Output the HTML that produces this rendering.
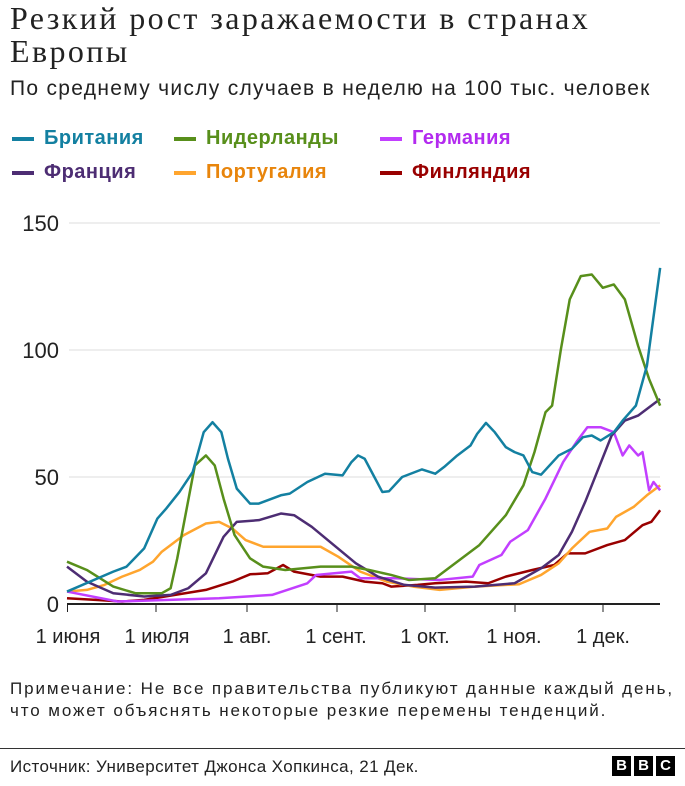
<!DOCTYPE html>
<html><head><meta charset="utf-8"><style>
body{margin:0;width:685px;height:786px;background:#fff;font-family:"Liberation Sans",sans-serif;color:#222;position:relative;overflow:hidden}
.a{position:absolute;white-space:nowrap}
.t{font-family:"Liberation Serif",serif;font-size:32px;line-height:33px;left:10px;top:2px;letter-spacing:2.4px}
.s{font-size:21px;left:10px;top:77px;letter-spacing:1.3px}
.lg{font-size:20px;font-weight:bold;letter-spacing:0.5px}
.sw{position:absolute;width:22px;height:4px}
.n{font-size:17px;line-height:22px;left:10px;top:678px;letter-spacing:1.9px}
</style></head><body>
<div class="a t">Резкий рост заражаемости в странах<br>Европы</div>
<div class="a s">По среднему числу случаев в неделю на 100 тыс. человек</div>
<div class="sw" style="left:12px;top:137px;background:#1380A1"></div><div class="a lg" style="left:44px;top:127px;color:#1380A1">Британия</div>
<div class="sw" style="left:174px;top:137px;background:#588F1B"></div><div class="a lg" style="left:206px;top:127px;color:#588F1B">Нидерланды</div>
<div class="sw" style="left:380px;top:137px;background:#C23FFF"></div><div class="a lg" style="left:412px;top:127px;color:#B32BEF">Германия</div>
<div class="sw" style="left:12px;top:171px;background:#4D2D73"></div><div class="a lg" style="left:44px;top:161px;color:#4D2D73">Франция</div>
<div class="sw" style="left:174px;top:171px;background:#FFA52E"></div><div class="a lg" style="left:206px;top:161px;color:#E8850C">Португалия</div>
<div class="sw" style="left:380px;top:171px;background:#990000"></div><div class="a lg" style="left:412px;top:161px;color:#990000">Финляндия</div>
<svg class="a" style="left:0;top:0" width="685" height="670">
<g stroke="#ddd" stroke-width="1"><line x1="69" x2="660" y1="223" y2="223"/><line x1="69" x2="660" y1="350" y2="350"/><line x1="69" x2="660" y1="477" y2="477"/></g>
<g font-size="22" fill="#222" text-anchor="end"><text x="59" y="231">150</text><text x="59" y="358">100</text><text x="59" y="485">50</text><text x="59" y="612">0</text></g>
<g fill="none" stroke-width="2.5" stroke-linejoin="round" transform="matrix(0.441 0 0 0.332 -1.36 199.8)">
<polyline vector-effect="non-scaling-stroke" stroke="#990000" points="155,1200 220,1205 280,1210 330,1205 400,1190 470,1175 530,1150 570,1128 610,1125 645,1100 670,1120 730,1135 780,1135 830,1150 870,1155 890,1165 950,1160 990,1155 1060,1150 1110,1155 1150,1135 1210,1115 1260,1100 1290,1065 1330,1065 1380,1040 1420,1025 1460,980 1480,970 1500,935"/>
<polyline vector-effect="non-scaling-stroke" stroke="#FFA52E" points="155,1180 200,1175 240,1160 280,1135 320,1115 350,1090 370,1060 420,1010 470,975 500,970 530,990 560,1025 600,1045 650,1045 730,1045 770,1075 820,1120 880,1150 940,1165 1000,1175 1080,1165 1180,1158 1230,1130 1270,1095 1300,1050 1340,1000 1380,990 1400,955 1440,925 1470,890 1500,860"/>
<polyline vector-effect="non-scaling-stroke" stroke="#C23FFF" points="155,1180 270,1210 500,1200 620,1190 700,1155 720,1130 800,1120 820,1140 900,1140 1000,1145 1075,1135 1090,1100 1140,1070 1160,1030 1200,995 1240,900 1280,790 1310,730 1335,685 1365,685 1395,700 1415,770 1430,740 1450,770 1460,760 1475,875 1485,850 1500,875"/>
<polyline vector-effect="non-scaling-stroke" stroke="#4D2D73" points="155,1105 200,1150 260,1185 330,1195 390,1190 430,1170 470,1125 510,1015 540,970 590,965 640,945 670,950 710,985 760,1040 810,1095 860,1135 920,1160 990,1168 1080,1165 1170,1155 1230,1110 1270,1070 1300,1000 1330,910 1360,810 1390,710 1420,665 1450,650 1500,600"/>
<polyline vector-effect="non-scaling-stroke" stroke="#588F1B" points="155,1090 200,1115 260,1165 310,1185 370,1185 390,1170 405,1080 425,940 445,800 470,770 490,800 510,900 535,1010 570,1080 600,1105 650,1115 730,1105 800,1105 840,1115 890,1130 930,1145 990,1140 1030,1100 1090,1040 1150,950 1190,860 1215,760 1240,640 1255,620 1275,450 1295,300 1320,230 1345,225 1370,265 1395,255 1420,300 1450,440 1475,540 1500,620"/>
<polyline vector-effect="non-scaling-stroke" stroke="#1380A1" points="155,1180 260,1120 290,1105 330,1050 360,960 380,930 410,880 440,820 465,700 485,670 505,700 520,780 540,870 570,915 590,915 640,890 660,885 700,850 740,825 780,830 800,790 815,770 830,780 850,830 870,880 885,878 915,835 960,812 990,825 1010,805 1040,770 1070,740 1085,705 1105,672 1125,700 1150,745 1170,760 1190,770 1210,820 1230,828 1270,770 1300,750 1325,715 1345,710 1365,725 1395,700 1415,665 1445,620 1470,500 1500,205"/>
</g>
<line x1="67" x2="660" y1="604" y2="604" stroke="#222" stroke-width="2"/>
<g stroke="#222" stroke-width="1"><line x1="67.5" x2="67.5" y1="604" y2="612"/><line x1="156" x2="156" y1="604" y2="612"/><line x1="247" x2="247" y1="604" y2="612"/><line x1="337" x2="337" y1="604" y2="612"/><line x1="425" x2="425" y1="604" y2="612"/><line x1="515" x2="515" y1="604" y2="612"/><line x1="603" x2="603" y1="604" y2="612"/></g>
<g font-size="20" fill="#222" text-anchor="middle"><text x="68" y="643">1 июня</text><text x="157" y="643">1 июля</text><text x="247" y="643">1 авг.</text><text x="336" y="643">1 сент.</text><text x="425" y="643">1 окт.</text><text x="514" y="643">1 ноя.</text><text x="603" y="643">1 дек.</text></g>
</svg>
<div class="a n">Примечание: Не все правительства публикуют данные каждый день,<br>что может объяснять некоторые резкие перемены тенденций.</div>
<div class="a" style="left:0;top:748px;width:685px;height:1px;background:#333"></div>
<div class="a" style="left:10px;top:757px;font-size:17px;letter-spacing:0.4px">Источник: Университет Джонса Хопкинса, 21 Дек.</div>
<div class="a" style="left:612px;top:756px;font-family:'Liberation Sans',sans-serif;font-weight:bold;font-size:15px;color:#fff">
<span style="display:inline-block;width:19px;height:20px;background:#000;text-align:center;line-height:20px">B</span><span style="display:inline-block;width:19px;height:20px;background:#000;text-align:center;line-height:20px;margin-left:3px">B</span><span style="display:inline-block;width:19px;height:20px;background:#000;text-align:center;line-height:20px;margin-left:3px">C</span></div>
</body></html>
